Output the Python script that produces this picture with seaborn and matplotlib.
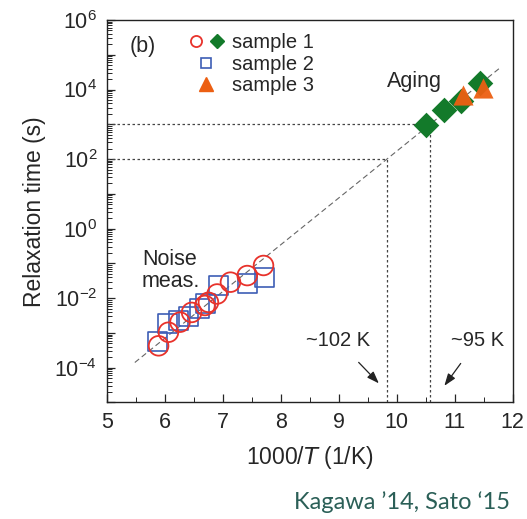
import numpy as np
import matplotlib
matplotlib.use("Agg")
import matplotlib.pyplot as plt
import seaborn as sns
from matplotlib.lines import Line2D
from matplotlib.legend_handler import HandlerTuple
from matplotlib.ticker import LogLocator, FuncFormatter, NullFormatter, MultipleLocator

# noise measurement data (1000/T, log10 of relaxation time)
s1_noise_x = [5.89, 6.06, 6.26, 6.46, 6.69, 6.75, 6.90, 7.13, 7.42, 7.70]
s1_noise_logt = [-3.37, -2.98, -2.69, -2.41, -2.21, -2.12, -1.88, -1.54, -1.35, -1.06]
s2_noise_x = [5.87, 6.05, 6.23, 6.40, 6.60, 6.70, 6.92, 7.42, 7.71]
s2_noise_logt = [-3.24, -2.74, -2.65, -2.53, -2.30, -2.16, -1.64, -1.59, -1.40]

# aging data
s1_aging_x = [10.51, 10.82, 11.11, 11.43]
s1_aging_logt = [2.98, 3.40, 3.67, 4.18]
s3_aging_x = [11.14, 11.48]
s3_aging_logt = [3.84, 4.03]

# guide line through the data
fit_x = [5.48, 11.80]
fit_logt = [-3.85, 4.65]

# dotted reference lines (tau = 100 s and 1000 s)
ref_x = [9.83, 10.57]
ref_t = [1e2, 1e3]
ref_labels = ["~102 K", "~95 K"]

red = "#e8322b"
blue = "#3d5db5"
green = "#137a2a"
orange = "#ec5f12"

sns.set_style("ticks")
plt.rcParams["font.family"] = ["Liberation Sans", "DejaVu Sans"]
plt.rcParams["mathtext.default"] = "regular"

fig = plt.figure(figsize=(5.27, 5.19), dpi=100)
ax = fig.add_axes([0.203, 0.2245, 0.770, 0.737])

# guide line and references
ax.plot(fit_x, 10 ** np.array(fit_logt), ls=(0, (5, 3)), color="#666666", lw=0.8, zorder=1)
ax.hlines(ref_t, 5, ref_x, colors="#444444", linestyles=(0, (2, 2)), lw=0.9, zorder=1)
ax.vlines(ref_x, 1e-5, ref_t, colors="#444444", linestyles=(0, (2, 2)), lw=0.9, zorder=1)

sns.scatterplot(x=s2_noise_x, y=10 ** np.array(s2_noise_logt), marker="s", s=185,
                facecolors="none", edgecolors=blue, linewidth=1.2, ax=ax, zorder=2)
sns.scatterplot(x=s1_noise_x, y=10 ** np.array(s1_noise_logt), marker="o", s=200,
                facecolors="none", edgecolors=red, linewidth=1.3, ax=ax, zorder=3)
sns.scatterplot(x=s1_aging_x, y=10 ** np.array(s1_aging_logt), marker="D", s=170,
                color=green, edgecolor=green, linewidth=0, ax=ax, zorder=3)
sns.scatterplot(x=s3_aging_x, y=10 ** np.array(s3_aging_logt), marker="^", s=210,
                color=orange, edgecolor=orange, linewidth=0, alpha=0.95, ax=ax, zorder=4)

ax.set_yscale("log")
ax.set_xlim(5, 12)
ax.set_ylim(1e-5, 1e6)
ax.xaxis.set_major_locator(MultipleLocator(1))
ax.xaxis.set_minor_locator(MultipleLocator(0.5))
ax.yaxis.set_major_locator(LogLocator(base=10, numticks=20))
ax.yaxis.set_minor_locator(LogLocator(base=10, subs=np.arange(2, 10), numticks=20))
ax.yaxis.set_minor_formatter(NullFormatter())


def ylab(v, pos):
    n = int(round(np.log10(v)))
    return r"$10^{%d}$" % n if n % 2 == 0 else ""


ax.yaxis.set_major_formatter(FuncFormatter(ylab))
ax.tick_params(which="both", direction="in", top=False, right=False, labelsize=15.5, pad=7)
ax.tick_params(which="major", length=6, width=0.9)
ax.tick_params(which="minor", length=3.5, width=0.7)
for sp in ax.spines.values():
    sp.set_linewidth(1.0)
    sp.set_color("#222222")

ax.set_xlabel("1000/$\\mathit{T}$ (1/K)", fontsize=16.5, labelpad=8)
ax.set_ylabel("Relaxation time (s)", fontsize=16.5, labelpad=6)

ax.text(5.62, 10 ** 5.23, "(b)", fontsize=15.5, ha="center", va="center")
ax.text(10.3, 10 ** 4.22, "Aging", fontsize=15.5, ha="center", va="center")
ax.text(5.6, 10 ** -1.2, "Noise\nmeas.", fontsize=15.5, ha="left", va="center", linespacing=1.1)

# temperature annotations
ax.annotate(ref_labels[0], xy=(9.69, 10 ** -4.45), xytext=(8.98, 10 ** -3.22),
            fontsize=14.5, ha="center", va="center",
            arrowprops=dict(arrowstyle="-|>,head_length=0.5,head_width=0.18", color="#222222", lw=0.9,
                            shrinkA=9, shrinkB=0))
ax.annotate(ref_labels[1], xy=(10.82, 10 ** -4.52), xytext=(11.39, 10 ** -3.22),
            fontsize=14.5, ha="center", va="center",
            arrowprops=dict(arrowstyle="-|>,head_length=0.5,head_width=0.18", color="#222222", lw=0.9,
                            shrinkA=9, shrinkB=0))

# legend
h_c = Line2D([], [], marker="o", ls="none", mfc="none", mec=red, mew=1.3, ms=8)
h_d = Line2D([], [], marker="D", ls="none", color=green, ms=7.5)
h_s = Line2D([], [], marker="s", ls="none", mfc="none", mec=blue, mew=1.2, ms=6.5)
h_t = Line2D([], [], marker="^", ls="none", color=orange, ms=10)
ax.legend([(h_c, h_d), h_s, h_t], ["sample 1", "sample 2", "sample 3"],
          handler_map={tuple: HandlerTuple(ndivide=None, pad=0.3)},
          loc="upper left", bbox_to_anchor=(0.2, 0.965), frameon=False,
          fontsize=14.5, handlelength=1.8, handletextpad=0.4, labelspacing=0.12,
          borderpad=0, borderaxespad=0)

fig.text(0.763, 0.033, "Kagawa \u201914, Sato \u201815", fontsize=17, color="#2b5f57",
         family=["Lato", "DejaVu Sans"], ha="center", va="center")

fig.savefig("out.png", dpi=100)
